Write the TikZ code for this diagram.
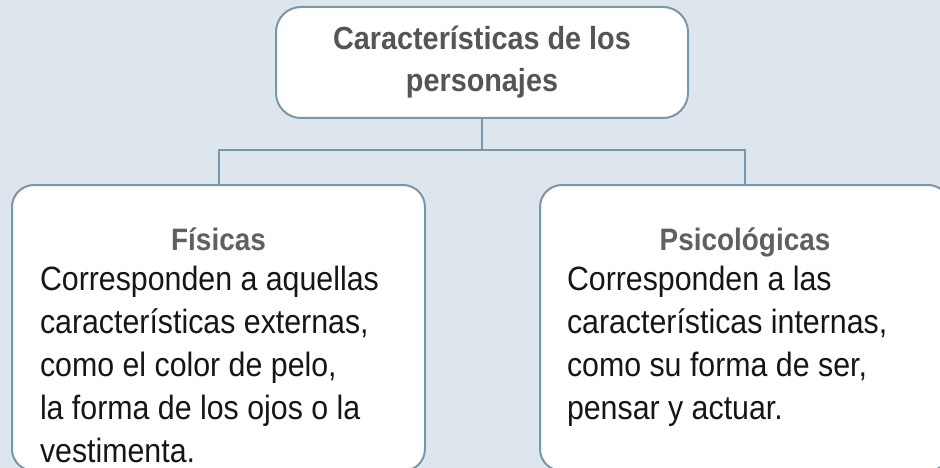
\documentclass[tikz,border=0pt]{standalone}
\usepackage{fontspec}
\setmainfont{Liberation Sans}[FakeStretch=0.9]
\usetikzlibrary{positioning}
\definecolor{bgblue}{RGB}{222,230,237}
\definecolor{edgeblue}{RGB}{121,151,171}
\definecolor{titlegray}{RGB}{85,85,85}
\definecolor{headgray}{RGB}{96,96,96}
\definecolor{bodyblack}{RGB}{22,22,22}
\newcommand{\headfont}{\fontsize{31}{40}\selectfont\bfseries\color{headgray}}
\newcommand{\bodyfont}{\fontsize{33.7}{43}\selectfont\mdseries\color{bodyblack}}

\begin{document}
\begin{tikzpicture}[x=1pt,y=-1pt,every node/.style={outer sep=0pt},
    card/.style={draw=edgeblue,line width=2pt,fill=white,rounded corners=22pt},
    link/.style={draw=edgeblue,line width=2pt},
    txt/.style={inner sep=0pt,anchor=base west}]
  \useasboundingbox (0,0) rectangle (940,468);
  \clip (0,0) rectangle (940,468);
  \fill[bgblue] (0,0) rectangle (940,468);

  \node[card,rounded corners=25pt,minimum width=412pt,minimum height=111pt,align=center,
    font=\fontsize{32}{42}\selectfont\bfseries,text=titlegray] (top) at (482,62.5)
    {Características de los\\personajes};
  \node[card,minimum width=413pt,minimum height=286pt,anchor=north] (fis) at (218.5,185) {};
  \node[card,minimum width=410pt,minimum height=286pt,anchor=north] (psi) at (745,185) {};

  \draw[link] (top.south) -- ++(0,32) coordinate (fork) -| (fis.north);
  \draw[link] (fork) -| (psi.north);

  \node[txt] (fistxt) at (40,228) {\parbox[t]{357pt}{\centering\headfont Físicas\par
    \vspace{-3pt}\raggedright\bodyfont Corresponden a aquellas\\características externas,\\
    como el color de pelo,\\la forma de los ojos o la\\vestimenta.}};
  \node[txt] (psitxt) at (567,228) {\parbox[t]{356pt}{\centering\headfont Psicológicas\par
    \vspace{-3pt}\raggedright\bodyfont Corresponden a las\\características internas,\\
    como su forma de ser,\\pensar y actuar.}};
\end{tikzpicture}
\end{document}
